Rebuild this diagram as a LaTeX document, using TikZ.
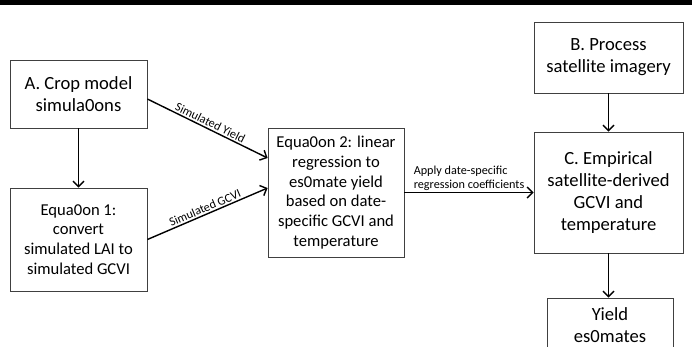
\documentclass[tikz,border=0pt]{standalone}
\usepackage{fontspec}
\setmainfont{Carlito}
\usepackage{tikz}
\usetikzlibrary{arrows.meta, positioning}

\begin{document}
\begin{tikzpicture}[box/.style={draw=black!75, line width=0.8pt, align=center, inner sep=0pt, font=\fontsize{18.6}{22}\selectfont},
					eqbox/.style={box, font=\fontsize{16.6}{19.8}\selectfont},
					x=1pt, y=-1pt,
					>={Straight Barb[length=5.5pt, width=11pt, line width=1.4pt]},   %arrow tips
					link/.style={->, line width=1.4pt},
					lbl/.style={font=\fontsize{12.2}{14.2}\selectfont, inner sep=1.5pt}]
					%page area
					\useasboundingbox (0,0) rectangle (692,346);
					\clip (0,0) rectangle (692,346);
					\fill[black] (0,0) rectangle (692,5);
					% left column
					\node[box, minimum width=137pt, minimum height=68pt] (A) at (78.5,94) {A. Crop model\\simula0ons};
					\node[eqbox, minimum width=137pt, minimum height=103pt] (eqone) at (78.5,239.5) {Equa0on 1:\\convert\\simulated LAI to\\simulated GCVI};
					% middle
					\node[eqbox, minimum width=136pt, minimum height=129pt] (eqtwo) at (336,192.5) {Equa0on 2: linear\\regression to\\es0mate yield\\based on date-\\specific GCVI and\\temperature};
					% right column
					\node[box, minimum width=149pt, minimum height=71pt] (B) at (608.5,57.5) {B. Process\\satellite imagery};
					\node[box, minimum width=149pt, minimum height=121pt] (C) at (608.5,192.5) {C. Empirical\\satellite-derived\\GCVI and\\temperature};
					\node[box, minimum width=126pt, minimum height=54pt] (Y) at (610,325) {Yield\\es0mates};
					%arrows
					\draw[link] (A) -- (eqone);
					\draw[link] ([yshift=-5pt]A.east) -- node[lbl, midway, above, sloped] {Simulated Yield} ([yshift=34.5pt]eqtwo.west);
					\draw[link] (eqone.east) -- node[lbl, midway, above, sloped] {Simulated GCVI} ([yshift=4.5pt]eqtwo.west);
					\draw[link] (eqtwo.east) -- node[lbl, midway, above, align=left] {Apply date-specific\\regression coefficients} (C.west);
					\draw[link] (B) -- (C);
					\draw[link] (C.south) -- (C.south |- Y.north);
				\end{tikzpicture}
\end{document}
